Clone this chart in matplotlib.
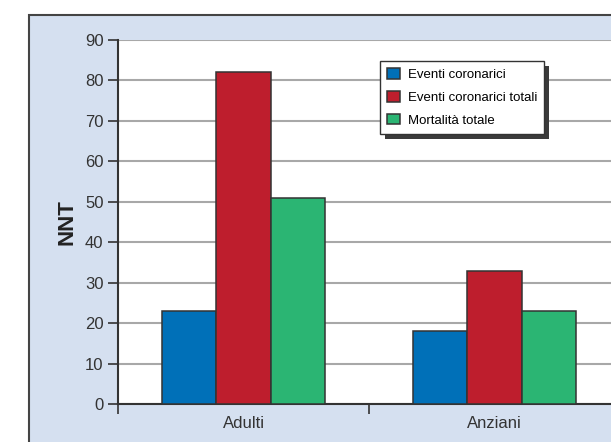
import matplotlib
matplotlib.use("Agg")
import matplotlib.pyplot as plt
import numpy as np
from matplotlib.patches import Rectangle

plt.rcParams['font.family'] = ['Liberation Sans', 'DejaVu Sans']

groups = ["Adulti", "Anziani"]
series = ["Eventi coronarici", "Eventi coronarici totali", "Mortalità totale"]
eventi = [23, 18]
eventi_totali = [82, 33]
mortalita = [51, 23]
colors = ["#0070b8", "#be1e2d", "#2bb573"]

fig = plt.figure(figsize=(6.11, 4.42), dpi=100)
fig.patch.set_facecolor("white")

# blue panel behind the chart
panel = Rectangle((29 / 611, -0.1), 1.1, 1 - 15 / 442 + 0.1, transform=fig.transFigure,
                  facecolor="#d5e0f0", edgecolor="#444444", linewidth=1.5, zorder=-1)
fig.add_artist(panel)

ax = fig.add_axes([118 / 611, 38 / 442, 502 / 611, 364 / 442])
ax.set_facecolor("white")

x = np.arange(len(groups))
w = 0.217
for i, (vals, name) in enumerate(zip([eventi, eventi_totali, mortalita], series)):
    ax.bar(x + (i - 1) * w, vals, w, color=colors[i], edgecolor="#333333",
           linewidth=1.1, label=name, zorder=3)

ax.set_xlim(-0.5, 1.5)
ax.set_ylim(0, 90)
ax.set_yticks(range(0, 91, 10))
ax.set_xticks([-0.5, 0.5, 1.5])
ax.set_xticklabels([])
ax.set_xticks(x, minor=True)
ax.set_xticklabels(groups, minor=True, fontsize=12, color="#333333")
ax.tick_params(axis="x", which="minor", length=0, pad=9)
ax.tick_params(axis="x", which="major", length=7, width=1.2, color="#333333")
ax.tick_params(axis="y", length=7, width=1.2, color="#333333", labelsize=12,
               labelcolor="#333333", pad=3.5)

ax.grid(axis="y", color="#a8a8a8", linewidth=1.5, zorder=0)
for s in ["top", "right"]:
    ax.spines[s].set_visible(False)
for s in ["left", "bottom"]:
    ax.spines[s].set_color("#333333")
    ax.spines[s].set_linewidth(1.5)

ax.set_ylabel("NNT", fontsize=16, fontweight="bold", color="#222222", labelpad=5)

leg = ax.legend(loc="upper left", bbox_to_anchor=(0.522, 0.942), borderaxespad=0,
                fontsize=9.5, frameon=True, fancybox=False, edgecolor="#333333",
                facecolor="white", framealpha=1,
                handlelength=1.0, handleheight=0.85, handletextpad=0.55,
                labelspacing=0.75, borderpad=0.55)
leg.get_frame().set_linewidth(1)
leg.set_zorder(5)

# solid drop shadow under the legend box
fig.canvas.draw()
bb = leg.get_window_extent().transformed(fig.transFigure.inverted())
shadow = Rectangle((bb.x0 + 5 / 611, bb.y0 - 5 / 442), bb.width, bb.height,
                   transform=fig.transFigure, facecolor="#3a3a3a", edgecolor="none",
                   zorder=4)
ax.add_artist(shadow)
shadow.set_clip_on(False)

fig.savefig("out.png", dpi=100)
